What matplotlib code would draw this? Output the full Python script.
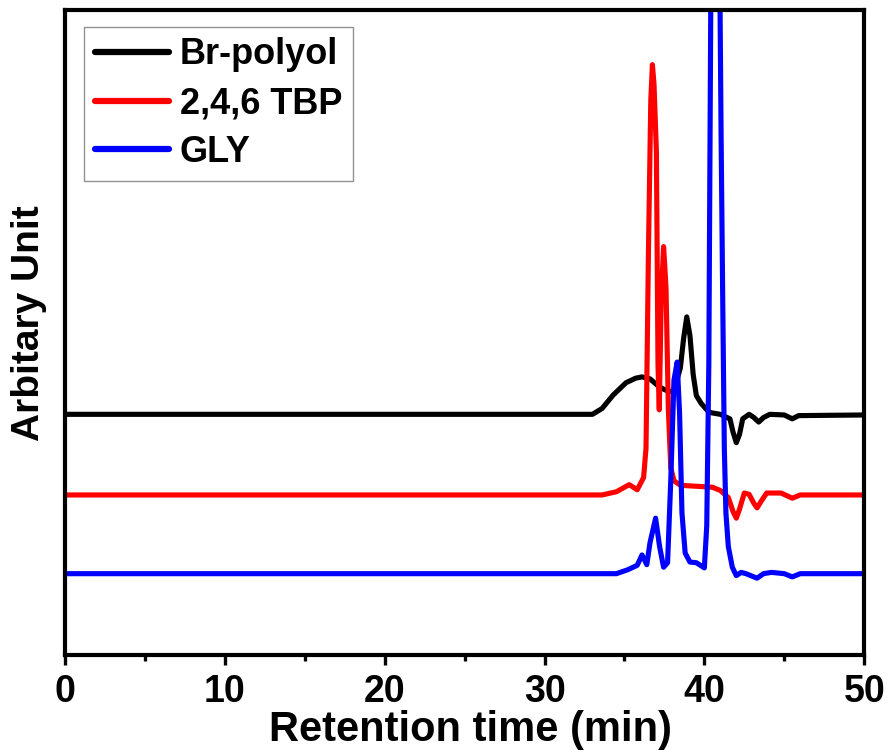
import matplotlib
matplotlib.use("Agg")
import matplotlib.pyplot as plt
from matplotlib.ticker import MultipleLocator

plt.rcParams['font.family'] = ['Liberation Sans', 'DejaVu Sans']
plt.rcParams['font.weight'] = 'bold'

# Br-polyol (black)
br_x = [0, 33.0, 33.6, 34.3, 35.1, 35.7, 36.1, 36.6, 37.2, 37.8, 38.1, 38.5, 38.7, 38.9,
        39.1, 39.3, 39.5, 39.8, 40.3, 41.0, 41.6, 41.8, 42.0, 42.2, 42.4, 42.8, 43.1,
        43.4, 43.7, 44.1, 45.0, 45.5, 45.9, 50]
br_y = [37.3, 37.3, 38.2, 40.3, 42.2, 42.9, 43.1, 42.8, 41.5, 40.8, 41.0, 44.5, 49.0, 52.4,
        49.5, 43.5, 40.2, 39.0, 37.6, 37.3, 36.6, 34.5, 32.9, 34.2, 36.6, 37.3, 36.8,
        36.1, 36.8, 37.3, 37.2, 36.6, 37.1, 37.2]

# 2,4,6 TBP (red)
tbp_x = [0, 33.6, 34.5, 35.3, 35.8, 36.2, 36.35, 36.5, 36.65, 36.75, 36.85, 37.0, 37.1,
         37.18, 37.3, 37.45, 37.6, 37.75, 37.9, 38.1, 38.5, 40.5, 41.0, 41.5, 41.8,
         42.0, 42.2, 42.5, 42.8, 43.1, 43.3, 43.6, 43.9, 44.8, 45.5, 46.0, 50]
tbp_y = [24.8, 24.8, 25.3, 26.4, 25.6, 27.5, 32.0, 62.0, 86.0, 91.5, 88.5, 78.0, 45.0,
         38.0, 55.0, 63.3, 57.0, 38.0, 29.0, 27.0, 26.3, 26.0, 25.5, 24.4, 22.2,
         21.2, 22.6, 25.1, 24.9, 23.5, 22.8, 24.0, 25.1, 25.1, 24.3, 24.8, 24.8]

# GLY (blue)
gly_x = [0, 34.5, 35.2, 35.8, 36.1, 36.4, 36.6, 36.95, 37.2, 37.45, 37.7, 37.9, 38.1,
         38.3, 38.45, 38.6, 38.8, 39.1, 39.5, 40.0, 40.15, 40.28, 40.4, 40.55, 40.75,
         40.95, 41.05, 41.15, 41.25, 41.35, 41.5, 41.75, 42.0, 42.3, 42.6, 43.3, 43.7,
         44.2, 45.0, 45.5, 46.0, 50]
gly_y = [12.6, 12.6, 13.2, 13.9, 15.5, 14.0, 17.4, 21.2, 16.8, 13.6, 14.3, 27.1, 42.6,
         45.4, 37.5, 22.0, 15.8, 14.4, 14.3, 13.5, 20.0, 45.0, 100.0, 140.0, 140.0,
         110.0, 80.0, 55.0, 32.0, 22.0, 16.8, 13.6, 12.3, 12.8, 12.6, 11.9, 12.6,
         12.8, 12.6, 12.1, 12.6, 12.6]

series = [
    ("Br-polyol", br_x, br_y, "#000000"),
    ("2,4,6 TBP", tbp_x, tbp_y, "#ff0000"),
    ("GLY", gly_x, gly_y, "#0000ff"),
]

x_ticks = [0, 10, 20, 30, 40, 50]

fig = plt.figure(figsize=(8.9, 7.55), dpi=100)
ax = fig.add_axes([0.073, 0.1325, 0.898, 0.8545])

for label, xs, ys, col in series:
    ax.plot(xs, ys, color=col, lw=3.7, label=label, solid_joinstyle='round',
            solid_capstyle='round')

ax.set_xlim(0, 50)
ax.set_ylim(0, 100)
ax.set_xticks(x_ticks)
ax.xaxis.set_minor_locator(MultipleLocator(5))
ax.set_yticks([])
ax.tick_params(axis='x', which='major', direction='out', length=7.5, width=2.4,
               labelsize=27, pad=6)
ax.tick_params(axis='x', which='minor', direction='out', length=4, width=2.4)
for lab in ax.get_xticklabels():
    lab.set_fontweight('bold')
for sp in ax.spines.values():
    sp.set_linewidth(3.0)

ax.set_xlabel("Retention time (min)", fontsize=30, fontweight='bold')
ax.xaxis.set_label_coords(0.508, -0.086)
ax.set_ylabel("Arbitary Unit", fontsize=28, fontweight='bold')
ax.yaxis.set_label_coords(-0.022, 0.515)

leg = ax.legend(loc='upper left', bbox_to_anchor=(0.024, 0.974), borderaxespad=0,
                frameon=True, fancybox=False, handlelength=2.05,
                handletextpad=0.3, labelspacing=0.38, borderpad=0.3,
                prop={'weight': 'bold', 'size': 26})
leg.get_frame().set_edgecolor('#777777')
leg.get_frame().set_linewidth(1.0)
for h in leg.get_lines():
    h.set_linewidth(4.5)

fig.savefig("out.png", dpi=100)
